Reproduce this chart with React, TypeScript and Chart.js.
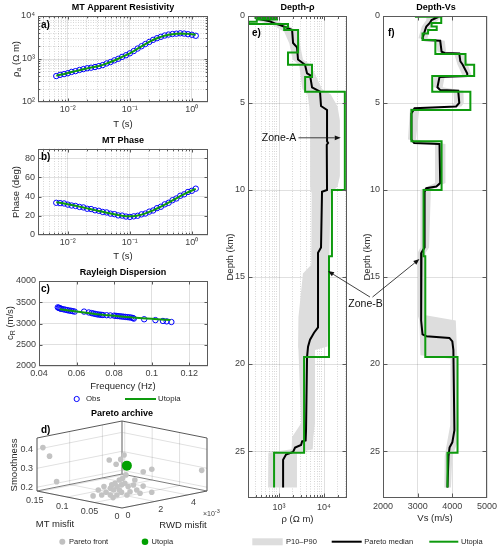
import React, { useEffect, useRef } from 'react';
import { Chart, registerables } from 'chart.js';

Chart.register(...registerables);

// ================= DATA =================
// panel a / b : MT sounding
const mtPeriods = [0.0065, 0.0075, 0.0087, 0.01, 0.0115, 0.0133, 0.0154, 0.0178, 0.0205, 0.0237, 0.0274, 0.0316, 0.0365, 0.0422, 0.0487, 0.0562, 0.0649, 0.075, 0.0866, 0.1, 0.1155, 0.1334, 0.154, 0.1778, 0.2054, 0.2371, 0.2738, 0.3162, 0.3652, 0.4217, 0.487, 0.5623, 0.6494, 0.7499, 0.866, 1.0, 1.155];
const rhoObs = [401, 428, 445, 468, 500, 522, 556, 582, 610, 628, 650, 682, 722, 788, 848, 930, 1010, 1120, 1222, 1355, 1530, 1750, 1980, 2230, 2490, 2790, 3040, 3280, 3520, 3700, 3810, 3880, 3960, 3900, 3770, 3660, 3470];
const rhoFit = [410, 430, 450, 472, 496, 522, 550, 578, 605, 632, 660, 690, 730, 785, 850, 925, 1012, 1115, 1230, 1355, 1525, 1735, 1975, 2220, 2490, 2770, 3030, 3270, 3490, 3660, 3780, 3860, 3900, 3890, 3840, 3760, 3660];
const phaseObs = [33.5, 33.2, 32.8, 31.6, 30.7, 30.2, 29.2, 28.7, 27.3, 27.0, 25.7, 25.2, 24.0, 23.5, 22.2, 21.7, 20.4, 20.2, 19.2, 18.8, 19.4, 20.0, 21.5, 22.3, 24.3, 25.5, 27.9, 29.4, 31.9, 33.5, 36.2, 38.0, 40.8, 42.3, 44.8, 46.0, 48.2];
const phaseFit = [34, 33.5, 32.7, 32, 31.2, 30.4, 29.5, 28.6, 27.7, 26.8, 25.9, 25, 24.1, 23.2, 22.4, 21.6, 20.8, 20.1, 19.6, 19.4, 19.6, 20.2, 21.2, 22.5, 24.0, 25.7, 27.6, 29.6, 31.7, 33.8, 36, 38.2, 40.4, 42.5, 44.5, 46.3, 48];

// panel c : Rayleigh dispersion
const rwdFreqObs = [0.05, 0.0505, 0.051, 0.0515, 0.052, 0.053, 0.054, 0.055, 0.056, 0.057, 0.058, 0.059, 0.064, 0.0665, 0.068, 0.069, 0.07, 0.071, 0.072, 0.073, 0.074, 0.076, 0.078, 0.08, 0.081, 0.082, 0.083, 0.084, 0.085, 0.086, 0.087, 0.088, 0.089, 0.09, 0.0905, 0.096, 0.102, 0.106, 0.108, 0.1105];
const rwdVelObs = [3380, 3370, 3360, 3350, 3345, 3335, 3325, 3315, 3305, 3300, 3290, 3280, 3280, 3260, 3245, 3235, 3225, 3215, 3210, 3205, 3200, 3195, 3190, 3185, 3180, 3175, 3170, 3165, 3160, 3155, 3150, 3145, 3140, 3130, 3115, 3100, 3080, 3060, 3050, 3035];
const rwdFreqFit = [0.051, 0.055, 0.06, 0.065, 0.07, 0.075, 0.08, 0.085, 0.09, 0.095, 0.1, 0.105, 0.11];
const rwdVelFit = [3335, 3312, 3285, 3255, 3225, 3200, 3180, 3160, 3140, 3125, 3110, 3097, 3085];

// panel d : Pareto archive (MT misfit, RWD misfit, smoothness)
const paretoMt = [0.149, 0.136, 0.121, 0.031, 0.0155, 0.0062, 0.0031, 0.0078, 0.0047, 0.0031, 0.074, 0.077, 0.08, 0.084, 0.056, 0.057, 0.054, 0.051, 0.047, 0.075, 0.041, 0.036, 0.033, 0.039, 0.047, 0.051, 0.057, 0.061, 0.065, 0.068, 0.063, 0.042, 0.03, 0.0194, 0.049, 0.047, 0.073, 0.027, 0.066];
const paretoRwd = [0.00016, 0.00013, 0.00006, 0.00026, 0.00016, 0.00013, 0.00023, 0.00156, 0.00198, 0.00498, 0.00272, 0.00262, 0.00252, 0.00239, 0.00125, 0.0012, 0.0013, 0.00141, 0.00155, 0.00269, 0.00175, 0.00191, 0.00201, 0.0018, 0.00155, 0.0014, 0.0012, 0.00107, 0.00094, 0.00083, 0.00101, 0.00171, 0.00211, 0.00247, 0.00148, 0.00103, 0.00068, 0.0022, 0.003];
const paretoSmooth = [0.41, 0.373, 0.248, 0.411, 0.399, 0.431, 0.454, 0.34, 0.348, 0.291, 0.265, 0.247, 0.238, 0.221, 0.248, 0.23, 0.221, 0.239, 0.248, 0.221, 0.239, 0.248, 0.221, 0.212, 0.209, 0.195, 0.195, 0.209, 0.195, 0.221, 0.239, 0.195, 0.204, 0.209, 0.221, 0.19, 0.19, 0.242, 0.238];
const utopiaMt = [0.023];
const utopiaRwd = [0.00107];
const utopiaSmooth = [0.372];

// panel e : depth - resistivity
const rhoBandDepth = [0, 0.3, 0.5, 0.9, 1.6, 2.5, 2.8, 3.4, 4.2, 4.5, 5.2, 6.0, 9.2, 9.8, 10.2, 14.3, 14.8, 17.3, 19.0, 19.2, 23.4, 24.2, 24.9, 25.1, 27.1];
const rhoBandLo = [250, 350, 700, 1300, 1700, 2000, 2800, 3000, 3300, 4300, 4700, 4900, 4900, 4900, 5300, 5200, 3400, 2700, 2650, 2700, 3100, 1950, 1900, 580, 570];
const rhoBandHi = [450, 900, 1500, 2700, 2900, 3400, 5000, 6500, 9000, 14000, 20000, 22500, 22500, 20000, 14000, 13000, 12300, 12300, 12000, 6300, 6300, 5800, 5600, 2500, 2500];
const rhoMedianDepth = [0, 0.1, 0.2, 0.3, 0.45, 0.52, 0.8, 1.55, 1.8, 2.5, 2.8, 3.3, 3.4, 4.1, 4.35, 5.17, 5.4, 7.2, 7.3, 7.4, 10.0, 10.1, 13.3, 13.6, 17.9, 18.2, 18.4, 18.6, 19.0, 19.6, 23.8, 24.4, 24.45, 24.65, 24.8, 25.05, 25.2, 25.5, 27.1];
const rhoMedian = [320, 500, 400, 620, 850, 1050, 1950, 2050, 2510, 2640, 3780, 4190, 4880, 5410, 8140, 8570, 11660, 11660, 12300, 11500, 11660, 9020, 8570, 7350, 7350, 5990, 5410, 4880, 4410, 4190, 3980, 3900, 3250, 3090, 2270, 2050, 1430, 1230, 1230];
const rhoUtopiaTop = [0, 0.12, 0.2, 0.33, 0.46, 0.65, 0.8, 2.1, 2.8, 3.5, 4.35, 10.0, 13.8, 19.6, 25.1];
const rhoUtopia = [300, 900, 320, 210, 1580, 1300, 2650, 1580, 5400, 3800, 29000, 15000, 12900, 3600, 775];

// panel f : depth - Vs
const vsBandDepth = [0, 0.23, 0.6, 1.28, 1.42, 2.05, 2.15, 2.8, 3.45, 3.5, 4.1, 4.3, 5.0, 5.2, 5.3, 7.1, 7.35, 9.6, 10.0, 13.3, 13.6, 17.2, 17.5, 19.5, 19.7, 23.5, 24.5, 25.3, 27.1];
const vsBandLo = [3250, 3250, 3120, 3020, 3520, 3570, 4050, 4150, 4300, 3470, 3450, 4030, 4050, 3990, 2780, 2720, 3500, 3500, 3080, 3080, 3000, 3000, 3050, 3080, 3950, 3940, 3850, 3780, 3770];
const vsBandHi = [3800, 3600, 3380, 3280, 3780, 3820, 4350, 4450, 4560, 3780, 3720, 4320, 4330, 4260, 3050, 2950, 3800, 3800, 3380, 3330, 3230, 3230, 4100, 4140, 4140, 4180, 4150, 4000, 3960];
const vsMedianDepth = [0, 0.1, 0.23, 0.4, 0.6, 0.9, 1.28, 1.38, 1.42, 2.05, 2.12, 2.15, 2.6, 2.8, 3.3, 3.45, 3.5, 4.1, 4.25, 4.3, 5.0, 5.2, 5.3, 5.6, 7.1, 7.3, 7.35, 9.6, 9.8, 9.9, 10.1, 13.3, 13.6, 17.5, 18.3, 18.4, 18.5, 18.7, 19.2, 23.8, 24.5, 24.8, 25.3, 27.1];
const vsMedian = [3450, 3550, 3400, 3350, 3250, 3200, 3140, 3180, 3650, 3690, 3780, 4200, 4230, 4300, 4430, 4430, 3630, 3570, 3650, 4170, 4200, 4110, 2910, 2820, 2820, 2900, 3630, 3650, 3540, 3250, 3200, 3200, 3110, 3100, 3140, 3250, 3915, 4000, 4030, 4060, 4000, 3920, 3890, 3860];
const vsUtopiaTop = [0, 0.05, 0.4, 0.6, 0.8, 1.0, 1.38, 2.18, 2.8, 3.45, 4.35, 5.4, 7.2, 10.0, 13.8, 19.6, 25.1];
const vsUtopia = [2950, 3680, 3400, 3550, 3300, 3140, 3510, 4380, 4630, 3420, 4520, 2820, 3690, 3170, 3220, 4150, 3860];
const profileBottom = 27.1;

// annotations (data coordinates)
const zoneA = { label: 'Zone-A', textRho: 1000, depth: 7.0, fromRho: 2700, toRho: 23500 };
const zoneB = { label: 'Zone-B', textVs: 1496, textDepth: 16.55, eFrom: [105000, 16.15], eTo: [12270, 14.66], fFrom: [1698, 16.15], fTo: [3051, 13.97] };

// axes ranges & ticks
const periodRange = [0.0033, 1.82];
const rhoARange = [100, 10000];
const phaseRange = [0, 90];
const phaseTicks = [0, 20, 40, 60, 80];
const freqRange = [0.04, 0.13];
const freqTicks = [0.04, 0.06, 0.08, 0.1, 0.12];
const velRange = [2000, 4000];
const velTicks = [2000, 2500, 3000, 3500, 4000];
const mtMisfitRange = [0, 0.155];
const mtMisfitTicks = [0, 0.05, 0.1, 0.15];
const rwdMisfitRange = [0, 0.0052];
const rwdMisfitTicks = [0, 0.002, 0.004];
const smoothRange = [0.18, 0.46];
const smoothTicks = [0.2, 0.3, 0.4];
const depthRange = [0, 27.7];
const depthTicks = [0, 5, 10, 15, 20, 25];
const rhoERange = [204, 32400];
const vsRange = [2000, 5000];
const vsTicks = [2000, 3000, 4000, 5000];

// ================= STYLE =================
const W = 500;
const H = 550;
const FONT = '"Liberation Sans", Arial, Helvetica, sans-serif';
const GREEN = '#0e9a0e';
const BLUE = '#0000ff';
const GRID_MAJOR = 'rgba(0,0,0,0.12)';
const GRID_MINOR = 'rgba(0,0,0,0.16)';
const FRAME = '#5a5a5a';
const TICK_COLOR = '#404040';
const LABEL_COLOR = '#262626';
const BAND = '#dddddd';
const TICK_SIZE = 9;
const LABEL_SIZE = 9.5;
const Y_BOX = 34; // width reserved for y tick labels (labels are clipped to it)
const X_BOX = 20;

// ================= HELPERS =================
const isDecade = (v: number) => Math.abs(Math.log10(v) - Math.round(Math.log10(v))) < 1e-6;
const SUP: Record<string, string> = { '0': '⁰', '1': '¹', '2': '²', '3': '³', '4': '⁴', '5': '⁵', '6': '⁶', '7': '⁷', '8': '⁸', '9': '⁹', '-': '⁻' };
const decadeLabel = (v: number) => (isDecade(v) ? '10' + String(Math.round(Math.log10(v))).split('').map((c) => SUP[c] || c).join('') : '');

function logTicks(min: number, max: number) {
  const out: number[] = [];
  for (let e = Math.floor(Math.log10(min)); e <= Math.ceil(Math.log10(max)); e++) {
    for (let m = 1; m <= 9; m++) {
      const v = parseFloat((m * Math.pow(10, e)).toPrecision(6));
      if (v >= min * 0.9999 && v <= max * 1.0001) out.push(v);
    }
  }
  return out;
}

function mkAxis(o: any) {
  const log = o.type === 'logarithmic';
  return {
    type: o.type,
    min: o.min,
    max: o.max,
    reverse: !!o.reverse,
    afterBuildTicks: (s: any) => {
      s.ticks = o.ticks.map((v: number) => ({ value: v }));
    },
    afterFit: (s: any) => {
      if (o.horizontal) s.height = X_BOX;
      else s.width = Y_BOX;
      s.paddingLeft = 0;
      s.paddingRight = 0;
      s.paddingTop = 0;
      s.paddingBottom = 0;
    },
    grid: {
      drawTicks: false,
      lineWidth: 1,
      color: (c: any) => (!log || !c.tick || isDecade(c.tick.value) ? GRID_MAJOR : GRID_MINOR),
    },
    border: {
      display: false,
      dash: (c: any) => (log && c.tick && !isDecade(c.tick.value) ? [1, 1.5] : []),
    },
    ticks: {
      autoSkip: false,
      maxRotation: 0,
      minRotation: 0,
      padding: o.pad ?? (o.horizontal ? 2 : 3),
      color: TICK_COLOR,
      font: { family: FONT, size: TICK_SIZE },
      callback: (v: any) => o.label(Number(v)),
    },
  };
}

function baseOptions(area: any, scales: any) {
  return {
    responsive: false,
    animation: false,
    devicePixelRatio: 1,
    events: [],
    layout: { padding: { left: area.l - Y_BOX, top: area.t, right: W - area.r, bottom: H - area.b - X_BOX } },
    plugins: { legend: { display: false }, tooltip: { enabled: false }, title: { display: false } },
    scales,
  };
}

function text(ctx: any, s: string, x: number, y: number, o: any = {}) {
  ctx.save();
  ctx.translate(x, y);
  if (o.rot) ctx.rotate(o.rot);
  ctx.font = `${o.bold ? 'bold ' : ''}${o.size ?? LABEL_SIZE}px ${o.family ?? FONT}`;
  ctx.fillStyle = o.color ?? LABEL_COLOR;
  ctx.textAlign = o.align ?? 'center';
  ctx.textBaseline = 'middle';
  ctx.fillText(s, 0, 0);
  ctx.restore();
}

function rich(ctx: any, parts: any[], x: number, y: number, rot = 0, align = 'center', color = LABEL_COLOR) {
  ctx.save();
  ctx.translate(x, y);
  if (rot) ctx.rotate(rot);
  ctx.textBaseline = 'middle';
  ctx.textAlign = 'left';
  ctx.fillStyle = color;
  let total = 0;
  for (const p of parts) {
    ctx.font = `${p.size}px ${FONT}`;
    total += ctx.measureText(p.t).width;
  }
  let cx = align === 'center' ? -total / 2 : align === 'right' ? -total : 0;
  for (const p of parts) {
    ctx.font = `${p.size}px ${FONT}`;
    ctx.fillText(p.t, cx, p.dy ?? 0);
    cx += ctx.measureText(p.t).width;
  }
  ctx.restore();
}

function arrow(ctx: any, x1: number, y1: number, x2: number, y2: number) {
  const ang = Math.atan2(y2 - y1, x2 - x1);
  const hl = 6;
  const hw = 2.4;
  const bx = x2 - hl * Math.cos(ang);
  const by = y2 - hl * Math.sin(ang);
  ctx.save();
  ctx.strokeStyle = '#111';
  ctx.fillStyle = '#111';
  ctx.lineWidth = 0.8;
  ctx.beginPath();
  ctx.moveTo(x1, y1);
  ctx.lineTo(bx, by);
  ctx.stroke();
  ctx.beginPath();
  ctx.moveTo(x2, y2);
  ctx.lineTo(bx + hw * Math.sin(ang), by - hw * Math.cos(ang));
  ctx.lineTo(bx - hw * Math.sin(ang), by + hw * Math.cos(ang));
  ctx.closePath();
  ctx.fill();
  ctx.restore();
}

function framePlugin(major = 3, minor = 1.8) {
  return {
    id: 'frame',
    afterDraw(chart: any) {
      const { ctx, chartArea: a, scales } = chart;
      ctx.save();
      ctx.strokeStyle = FRAME;
      ctx.lineWidth = 1;
      const L = Math.round(a.left) + 0.5;
      const T = Math.round(a.top) + 0.5;
      const R = Math.round(a.right) - 0.5;
      const B = Math.round(a.bottom) - 0.5;
      ctx.strokeRect(L, T, R - L, B - T);
      ctx.beginPath();
      for (const key of ['x', 'y']) {
        const s = scales[key];
        const log = s.type === 'logarithmic';
        for (const t of s.ticks) {
          const len = !log || isDecade(t.value) ? major : minor;
          const p = Math.round(s.getPixelForValue(t.value)) + 0.5;
          if (key === 'x') {
            if (p <= L + 1 || p >= R - 1) continue;
            ctx.moveTo(p, B);
            ctx.lineTo(p, B - len);
            ctx.moveTo(p, T);
            ctx.lineTo(p, T + len);
          } else {
            if (p <= T + 1 || p >= B - 1) continue;
            ctx.moveTo(L, p);
            ctx.lineTo(L + len, p);
            ctx.moveTo(R, p);
            ctx.lineTo(R - len, p);
          }
        }
      }
      ctx.stroke();
      ctx.restore();
    },
  };
}

function overlay(id: string, draw: (c: any, ctx: any) => void, hook = 'afterDraw') {
  return {
    id,
    [hook]: (c: any) => {
      c.ctx.save();
      draw(c, c.ctx);
      c.ctx.restore();
    },
  };
}

function bandPlugin(depths: number[], lo: number[], hi: number[]) {
  return overlay(
    'band',
    (c, ctx) => {
      const a = c.chartArea;
      const xs = c.scales.x;
      const ys = c.scales.y;
      ctx.beginPath();
      ctx.rect(a.left, a.top, a.right - a.left, a.bottom - a.top);
      ctx.clip();
      ctx.beginPath();
      depths.forEach((d, i) => {
        const px = xs.getPixelForValue(lo[i]);
        const py = ys.getPixelForValue(d);
        if (i === 0) ctx.moveTo(px, py);
        else ctx.lineTo(px, py);
      });
      for (let i = depths.length - 1; i >= 0; i--) ctx.lineTo(xs.getPixelForValue(hi[i]), ys.getPixelForValue(depths[i]));
      ctx.closePath();
      ctx.fillStyle = BAND;
      ctx.fill();
    },
    'beforeDatasetsDraw'
  );
}

function layerSteps(tops: number[], vals: number[], bottom: number) {
  const pts: any[] = [];
  tops.forEach((t, i) => {
    const b = i + 1 < tops.length ? tops[i + 1] : bottom;
    pts.push({ x: vals[i], y: t }, { x: vals[i], y: b });
  });
  return pts;
}

const lineDs = (data: any[], color: string, width = 2) => ({
  data,
  showLine: true,
  borderColor: color,
  borderWidth: width,
  pointRadius: 0,
  fill: false,
  tension: 0,
});

const circleDs = (data: any[]) => ({
  data,
  showLine: false,
  borderColor: BLUE,
  backgroundColor: 'rgba(0,0,0,0)',
  borderWidth: 1,
  pointRadius: 2.7,
  pointStyle: 'circle',
});

// 3D projection for panel d
const VIEW_FLOOR = 17 / 87;
const VIEW_HEIGHT = 53 / 87;
const nrm = (v: number, r: number[]) => (v - r[0]) / (r[1] - r[0]);
function proj(mt: number, rwd: number, sm: number) {
  const u = nrm(mt, mtMisfitRange);
  const v = nrm(rwd, rwdMisfitRange);
  const w = nrm(sm, smoothRange);
  return { x: v - u, y: VIEW_FLOOR * (u + v) + VIEW_HEIGHT * w };
}

// ================= CHART CONFIGS =================
const areaA = { l: 38, t: 16, r: 208, b: 102 };
const areaB = { l: 38, t: 148.5, r: 208, b: 235 };
const areaC = { l: 39, t: 281, r: 208, b: 366 };
const areaD = { l: 37, t: 421, r: 207, b: 508 };
const areaE = { l: 248, t: 16, r: 347, b: 498 };
const areaF = { l: 383, t: 16, r: 487, b: 498 };

const rotL = -Math.PI / 2;

function configA(): any {
  return {
    type: 'scatter',
    data: {
      datasets: [
        lineDs(mtPeriods.map((t, i) => ({ x: t, y: rhoFit[i] })), GREEN, 2),
        circleDs(mtPeriods.map((t, i) => ({ x: t, y: rhoObs[i] }))),
      ],
    },
    options: baseOptions(areaA, {
      x: mkAxis({ type: 'logarithmic', min: periodRange[0], max: periodRange[1], ticks: logTicks(periodRange[0], periodRange[1]), label: decadeLabel, horizontal: true }),
      y: mkAxis({ type: 'logarithmic', min: rhoARange[0], max: rhoARange[1], ticks: logTicks(rhoARange[0], rhoARange[1]), label: decadeLabel }),
    }),
    plugins: [
      framePlugin(),
      overlay('annA', (c, ctx) => {
        text(ctx, 'MT Apparent Resistivity', 123, 8, { bold: true, size: 9, color: '#000' });
        text(ctx, 'a)', 41, 25, { bold: true, size: 10, color: '#000', align: 'left' });
        text(ctx, 'T (s)', 123, 124);
        rich(ctx, [{ t: 'ρ', size: LABEL_SIZE }, { t: 'a', size: 7, dy: 3 }, { t: ' (Ω m)', size: LABEL_SIZE }], 16, 59, rotL);
      }),
    ],
  };
}

function configB(): any {
  return {
    type: 'scatter',
    data: {
      datasets: [
        lineDs(mtPeriods.map((t, i) => ({ x: t, y: phaseFit[i] })), GREEN, 2),
        circleDs(mtPeriods.map((t, i) => ({ x: t, y: phaseObs[i] }))),
      ],
    },
    options: baseOptions(areaB, {
      x: mkAxis({ type: 'logarithmic', min: periodRange[0], max: periodRange[1], ticks: logTicks(periodRange[0], periodRange[1]), label: decadeLabel, horizontal: true }),
      y: mkAxis({ type: 'linear', min: phaseRange[0], max: phaseRange[1], ticks: phaseTicks, label: (v: number) => String(v) }),
    }),
    plugins: [
      framePlugin(),
      overlay('annB', (c, ctx) => {
        text(ctx, 'MT Phase', 123, 141, { bold: true, size: 9, color: '#000' });
        text(ctx, 'b)', 41, 157, { bold: true, size: 10, color: '#000', align: 'left' });
        text(ctx, 'T (s)', 123, 256);
        text(ctx, 'Phase (deg)', 16, 192, { rot: rotL });
      }),
    ],
  };
}

function configC(): any {
  return {
    type: 'scatter',
    data: {
      datasets: [
        lineDs(rwdFreqFit.map((f, i) => ({ x: f, y: rwdVelFit[i] })), GREEN, 2),
        circleDs(rwdFreqObs.map((f, i) => ({ x: f, y: rwdVelObs[i] }))),
      ],
    },
    options: baseOptions(areaC, {
      x: mkAxis({ type: 'linear', min: freqRange[0], max: freqRange[1], ticks: freqTicks, label: (v: number) => String(v), horizontal: true }),
      y: mkAxis({ type: 'linear', min: velRange[0], max: velRange[1], ticks: velTicks, label: (v: number) => String(v) }),
    }),
    plugins: [
      framePlugin(),
      overlay('annC', (c, ctx) => {
        text(ctx, 'Rayleigh Dispersion', 123, 273, { bold: true, size: 9, color: '#000' });
        text(ctx, 'c)', 41, 289, { bold: true, size: 10, color: '#000', align: 'left' });
        text(ctx, 'Frequency (Hz)', 123, 386);
        rich(ctx, [{ t: 'c', size: LABEL_SIZE }, { t: 'R', size: 7, dy: 3 }, { t: ' (m/s)', size: LABEL_SIZE }], 10, 323, rotL);
        ctx.strokeStyle = BLUE;
        ctx.lineWidth = 1;
        ctx.beginPath();
        ctx.arc(76.7, 399, 2.6, 0, Math.PI * 2);
        ctx.stroke();
        text(ctx, 'Obs', 86, 399, { size: 7.8, align: 'left' });
        ctx.strokeStyle = GREEN;
        ctx.lineWidth = 2;
        ctx.beginPath();
        ctx.moveTo(125, 399);
        ctx.lineTo(156, 399);
        ctx.stroke();
        text(ctx, 'Utopia', 158, 399, { size: 7.8, align: 'left' });
      }),
    ],
  };
}

function configD(): any {
  const box3d = (c: any, ctx: any) => {
    const xs = c.scales.x;
    const ys = c.scales.y;
    const P = (u: number, v: number, w: number) => [xs.getPixelForValue(v - u), ys.getPixelForValue(VIEW_FLOOR * (u + v) + VIEW_HEIGHT * w)];
    const seg = (a: number[], b: number[], color: string, lw = 1) => {
      const p = P(a[0], a[1], a[2]);
      const q = P(b[0], b[1], b[2]);
      ctx.strokeStyle = color;
      ctx.lineWidth = lw;
      ctx.beginPath();
      ctx.moveTo(p[0], p[1]);
      ctx.lineTo(q[0], q[1]);
      ctx.stroke();
    };
    const us = mtMisfitTicks.map((t) => nrm(t, mtMisfitRange));
    const vs = rwdMisfitTicks.map((t) => nrm(t, rwdMisfitRange));
    const ws = smoothTicks.map((t) => nrm(t, smoothRange));
    us.forEach((u) => seg([u, 0, 0], [u, 1, 0], GRID_MAJOR));
    vs.forEach((v) => seg([0, v, 0], [1, v, 0], GRID_MAJOR));
    vs.forEach((v) => seg([1, v, 0], [1, v, 1], GRID_MAJOR));
    ws.forEach((w) => seg([1, 0, w], [1, 1, w], GRID_MAJOR));
    us.forEach((u) => seg([u, 1, 0], [u, 1, 1], GRID_MAJOR));
    ws.forEach((w) => seg([0, 1, w], [1, 1, w], GRID_MAJOR));
    const E = FRAME;
    seg([1, 0, 0], [1, 1, 0], E, 0.8);
    seg([1, 1, 0], [0, 1, 0], E, 0.8);
    seg([0, 0, 0], [1, 0, 0], E);
    seg([0, 0, 0], [0, 1, 0], E);
    seg([1, 0, 0], [1, 0, 1], E);
    seg([0, 1, 0], [0, 1, 1], E);
    seg([1, 1, 0], [1, 1, 1], '#9a9a9a', 1.6);
    seg([1, 0, 1], [1, 1, 1], E);
    seg([1, 1, 1], [0, 1, 1], E);
  };
  const labels3d = (c: any, ctx: any) => {
    const xs = c.scales.x;
    const ys = c.scales.y;
    const P = (u: number, v: number, w: number) => [xs.getPixelForValue(v - u), ys.getPixelForValue(VIEW_FLOOR * (u + v) + VIEW_HEIGHT * w)];
    mtMisfitTicks.forEach((t) => {
      const p = P(nrm(t, mtMisfitRange), 0, 0);
      text(ctx, String(t), p[0] - 5, p[1] + 9, { size: TICK_SIZE, color: TICK_COLOR });
    });
    rwdMisfitTicks.forEach((t) => {
      const p = P(0, nrm(t, rwdMisfitRange), 0);
      text(ctx, String(Math.round(t * 1000)), p[0] + 6, p[1] + 8, { size: TICK_SIZE, color: TICK_COLOR });
    });
    smoothTicks.forEach((t) => {
      const p = P(1, 0, nrm(t, smoothRange));
      text(ctx, String(t), p[0] - 4, p[1], { size: TICK_SIZE, color: TICK_COLOR, align: 'right' });
    });
    text(ctx, 'Pareto archive', 122, 414, { bold: true, size: 9, color: '#000' });
    text(ctx, 'd)', 41, 430, { bold: true, size: 10, color: '#000', align: 'left' });
    text(ctx, 'Smoothness', 14, 465, { rot: rotL });
    text(ctx, 'MT misfit', 55, 524);
    text(ctx, 'RWD misfit', 183, 525);
    rich(ctx, [{ t: '×10', size: 7 }, { t: '-3', size: 5.5, dy: -3 }], 203, 514, 0, 'left', TICK_COLOR);
    ctx.fillStyle = '#c0c0c0';
    ctx.beginPath();
    ctx.arc(62.3, 541.7, 3, 0, Math.PI * 2);
    ctx.fill();
    text(ctx, 'Pareto front', 69, 541.7, { size: 7.5, align: 'left' });
    ctx.fillStyle = '#00a000';
    ctx.beginPath();
    ctx.arc(145, 541.7, 3.3, 0, Math.PI * 2);
    ctx.fill();
    text(ctx, 'Utopia', 151.5, 541.7, { size: 7.5, align: 'left' });
  };
  return {
    type: 'scatter',
    data: {
      datasets: [
        {
          data: utopiaMt.map((m, i) => proj(m, utopiaRwd[i], utopiaSmooth[i])),
          backgroundColor: '#00a000',
          borderWidth: 0,
          pointRadius: 5,
        },
        {
          data: paretoMt.map((m, i) => proj(m, paretoRwd[i], paretoSmooth[i])),
          backgroundColor: '#c3c3c3',
          borderWidth: 0,
          pointRadius: 2.8,
        },
      ],
    },
    options: {
      responsive: false,
      animation: false,
      devicePixelRatio: 1,
      events: [],
      layout: { padding: { left: areaD.l, top: areaD.t, right: W - areaD.r, bottom: H - areaD.b } },
      plugins: { legend: { display: false }, tooltip: { enabled: false } },
      scales: {
        x: { type: 'linear', min: -1, max: 1, display: false },
        y: { type: 'linear', min: 0, max: 1, display: false },
      },
    },
    plugins: [overlay('box3d', box3d, 'beforeDatasetsDraw'), overlay('lab3d', labels3d)],
  };
}

function configE(): any {
  return {
    type: 'scatter',
    data: {
      datasets: [
        lineDs(layerSteps(rhoUtopiaTop, rhoUtopia, profileBottom), GREEN, 2),
        lineDs(rhoMedianDepth.map((d, i) => ({ x: rhoMedian[i], y: d })), '#000', 2),
      ],
    },
    options: baseOptions(areaE, {
      x: mkAxis({ type: 'logarithmic', min: rhoERange[0], max: rhoERange[1], ticks: logTicks(rhoERange[0], rhoERange[1]), label: decadeLabel, horizontal: true, pad: 4 }),
      y: mkAxis({ type: 'linear', min: depthRange[0], max: depthRange[1], reverse: true, ticks: depthTicks, label: (v: number) => String(v) }),
    }),
    plugins: [
      bandPlugin(rhoBandDepth, rhoBandLo, rhoBandHi),
      framePlugin(4, 2.5),
      overlay('annE', (c, ctx) => {
        const xs = c.scales.x;
        const ys = c.scales.y;
        text(ctx, 'Depth-ρ', 297.5, 8, { bold: true, size: 9, color: '#000' });
        text(ctx, 'e)', 252, 33, { bold: true, size: 10, color: '#000', align: 'left' });
        text(ctx, 'ρ (Ω m)', 297.5, 519);
        text(ctx, 'Depth (km)', 230, 257, { rot: rotL });
        const yA = ys.getPixelForValue(zoneA.depth);
        text(ctx, zoneA.label, xs.getPixelForValue(zoneA.textRho), yA, { size: 10.5, color: '#111' });
        arrow(ctx, xs.getPixelForValue(zoneA.fromRho), yA, xs.getPixelForValue(zoneA.toRho), yA);
        arrow(ctx, xs.getPixelForValue(zoneB.eFrom[0]), ys.getPixelForValue(zoneB.eFrom[1]), xs.getPixelForValue(zoneB.eTo[0]), ys.getPixelForValue(zoneB.eTo[1]));
        ctx.fillStyle = BAND;
        ctx.fillRect(252.3, 538.3, 30.4, 7);
        text(ctx, 'P10–P90', 286, 541.7, { size: 7.5, align: 'left' });
        ctx.strokeStyle = '#000';
        ctx.lineWidth = 2;
        ctx.beginPath();
        ctx.moveTo(331.7, 541.7);
        ctx.lineTo(361.7, 541.7);
        ctx.stroke();
        text(ctx, 'Pareto median', 364.3, 541.7, { size: 7.5, align: 'left' });
        ctx.strokeStyle = GREEN;
        ctx.beginPath();
        ctx.moveTo(429.3, 541.7);
        ctx.lineTo(458.3, 541.7);
        ctx.stroke();
        text(ctx, 'Utopia', 461, 541.7, { size: 7.5, align: 'left' });
      }),
    ],
  };
}

function configF(): any {
  return {
    type: 'scatter',
    data: {
      datasets: [
        lineDs(layerSteps(vsUtopiaTop, vsUtopia, profileBottom), GREEN, 2),
        lineDs(vsMedianDepth.map((d, i) => ({ x: vsMedian[i], y: d })), '#000', 2),
      ],
    },
    options: baseOptions(areaF, {
      x: mkAxis({ type: 'linear', min: vsRange[0], max: vsRange[1], ticks: vsTicks, label: (v: number) => String(v), horizontal: true, pad: 3 }),
      y: mkAxis({ type: 'linear', min: depthRange[0], max: depthRange[1], reverse: true, ticks: depthTicks, label: (v: number) => String(v) }),
    }),
    plugins: [
      bandPlugin(vsBandDepth, vsBandLo, vsBandHi),
      framePlugin(4, 2.5),
      overlay('annF', (c, ctx) => {
        const xs = c.scales.x;
        const ys = c.scales.y;
        text(ctx, 'Depth-Vs', 436, 8, { bold: true, size: 9, color: '#000' });
        text(ctx, 'f)', 388, 33, { bold: true, size: 10, color: '#000', align: 'left' });
        text(ctx, 'Vs (m/s)', 435, 518);
        text(ctx, 'Depth (km)', 367, 257, { rot: rotL });
        text(ctx, zoneB.label, xs.getPixelForValue(zoneB.textVs), ys.getPixelForValue(zoneB.textDepth), { size: 10.5, color: '#111' });
        arrow(ctx, xs.getPixelForValue(zoneB.fFrom[0]), ys.getPixelForValue(zoneB.fFrom[1]), xs.getPixelForValue(zoneB.fTo[0]), ys.getPixelForValue(zoneB.fTo[1]));
      }),
    ],
  };
}

// ================= COMPONENT =================
const CONFIGS = [configA, configB, configC, configD, configE, configF];

export default function App() {
  const canvases = useRef<(HTMLCanvasElement | null)[]>([]);
  useEffect(() => {
    const charts = CONFIGS.map((mk, i) => new Chart(canvases.current[i] as HTMLCanvasElement, mk()));
    return () => charts.forEach((c) => c.destroy());
  }, []);
  return (
    <div style={{ position: 'absolute', left: 0, top: 0, width: W, height: H, background: '#ffffff', overflow: 'hidden' }}>
      {CONFIGS.map((_, i) => (
        <canvas
          key={i}
          ref={(el) => {
            canvases.current[i] = el;
          }}
          width={W}
          height={H}
          style={{ position: 'absolute', left: 0, top: 0, width: W, height: H }}
        />
      ))}
    </div>
  );
}
